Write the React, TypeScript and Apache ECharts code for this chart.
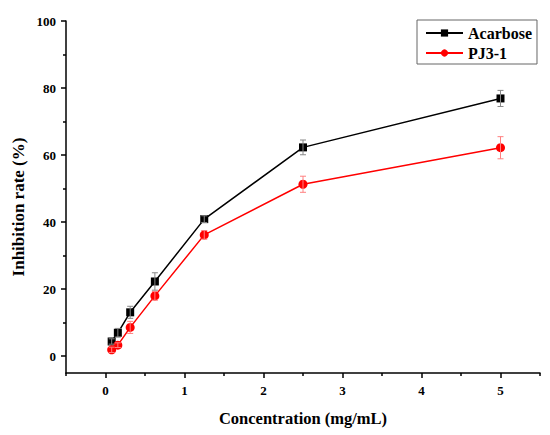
import React, { useEffect, useRef } from "react";
import * as echarts from "echarts";

const concentrations = [0.078125, 0.15625, 0.3125, 0.625, 1.25, 2.5, 5];
const acarbose = [4.4, 7.0, 13.1, 22.3, 40.9, 62.3, 76.9];
const acarboseErr = [0.8, 1.3, 1.8, 2.6, 1.0, 2.2, 2.4];
const pj31 = [1.9, 3.3, 8.6, 18.0, 36.2, 51.3, 62.2];
const pj31Err = [0.8, 0.7, 1.8, 1.3, 1.3, 2.4, 3.3];
const xLabels = [0, 1, 2, 3, 4, 5];
const xMinor = [-0.5, 0.5, 1.5, 2.5, 3.5, 4.5, 5.5];
const yLabels = [0, 20, 40, 60, 80, 100];
const yMinor = [10, 30, 50, 70, 90];

const FONT = "'Liberation Serif', 'Times New Roman', serif";

function errSeries(vals: number[], errs: number[], color: string) {
  return {
    type: "custom",
    coordinateSystem: "cartesian2d",
    xAxisIndex: 0,
    yAxisIndex: 0,
    z: 5,
    silent: true,
    data: concentrations.map((x, i) => [x, vals[i], errs[i]]),
    renderItem: (params: any, api: any) => {
      const x = api.value(0);
      const y = api.value(1);
      const e = api.value(2);
      const hi = api.coord([x, y + e]);
      const lo = api.coord([x, y - e]);
      const w = 3;
      const style = { stroke: color, lineWidth: 1 };
      return {
        type: "group",
        children: [
          { type: "line", shape: { x1: hi[0], y1: hi[1], x2: lo[0], y2: lo[1] }, style },
          { type: "line", shape: { x1: hi[0] - w, y1: hi[1], x2: hi[0] + w, y2: hi[1] }, style },
          { type: "line", shape: { x1: lo[0] - w, y1: lo[1], x2: lo[0] + w, y2: lo[1] }, style },
        ],
      };
    },
  };
}

export default function App() {
  const ref = useRef<HTMLDivElement>(null);
  useEffect(() => {
    if (!ref.current) return;
    const chart = echarts.init(ref.current, null, { renderer: "svg" });
    const axisLine = { show: true, onZero: false, lineStyle: { color: "#000", width: 1.5 } };
    const tickStyle = { color: "#000", width: 1.5 };
    const labelStyle = { fontFamily: FONT, fontWeight: "bold", fontSize: 13, color: "#000" };
    chart.setOption({
      animation: false,
      backgroundColor: "#fff",
      grid: { left: 66, right: 10, top: 21, bottom: 62, containLabel: false },
      legend: {
        data: ["Acarbose", "PJ3-1"],
        orient: "vertical",
        left: 417,
        top: 20,
        padding: [5, 5, 3, 8],
        itemGap: 4,
        itemWidth: 37,
        itemHeight: 9,
        borderColor: "#666",
        borderWidth: 1,
        textStyle: { fontFamily: FONT, fontWeight: "bold", fontSize: 16, color: "#000" },
      },
      graphic: [
        {
          type: "text",
          x: 18,
          y: 207,
          rotation: Math.PI / 2,
          style: {
            text: "Inhibition rate (%)",
            fontFamily: FONT,
            fontWeight: "bold",
            fontSize: 17,
            fill: "#000",
            textAlign: "center",
            textVerticalAlign: "middle",
          },
        },
      ],
      xAxis: [
        {
          type: "value",
          min: -0.5,
          max: 5.5,
          position: "bottom",
          name: "Concentration (mg/mL)",
          nameLocation: "middle",
          nameGap: 37,
          nameTextStyle: { fontFamily: FONT, fontWeight: "bold", fontSize: 16.5, color: "#000" },
          axisLine,
          axisTick: { customValues: xLabels, length: 5, lineStyle: tickStyle },
          axisLabel: { customValues: xLabels, margin: 11, ...labelStyle },
          splitLine: { show: false },
        },
        {
          type: "value",
          min: -0.5,
          max: 5.5,
          position: "bottom",
          axisLine: { show: false, onZero: false },
          axisTick: { customValues: xMinor, length: 3, lineStyle: tickStyle },
          axisLabel: { show: false },
          splitLine: { show: false },
        },
      ],
      yAxis: [
        {
          type: "value",
          min: -5,
          max: 100,
          position: "left",
          axisLine,
          axisTick: { show: true, customValues: yLabels, length: 5, lineStyle: tickStyle },
          axisLabel: { customValues: yLabels, margin: 10, ...labelStyle },
          splitLine: { show: false },
        },
        {
          type: "value",
          min: -5,
          max: 100,
          position: "left",
          axisLine: { show: false, onZero: false },
          axisTick: { show: true, customValues: yMinor, length: 3, lineStyle: tickStyle },
          axisLabel: { show: false },
          splitLine: { show: false },
        },
      ],
      series: [
        {
          name: "Acarbose",
          type: "line",
          data: concentrations.map((x, i) => [x, acarbose[i]]),
          symbol: "rect",
          symbolSize: 8,
          color: "#000",
          lineStyle: { color: "#000", width: 1.5 },
          itemStyle: { color: "#000" },
          z: 3,
        },
        {
          name: "PJ3-1",
          type: "line",
          data: concentrations.map((x, i) => [x, pj31[i]]),
          symbol: "circle",
          symbolSize: 9,
          color: "#ff0000",
          lineStyle: { color: "#ff0000", width: 1.5 },
          itemStyle: { color: "#ff0000" },
          z: 3,
        },
        errSeries(acarbose, acarboseErr, "#888888"),
        errSeries(pj31, pj31Err, "#ff8080"),
      ],
    });
    return () => chart.dispose();
  }, []);
  return (
    <div
      ref={ref}
      style={{ position: "fixed", left: 0, top: 0, width: 550, height: 435, background: "#fff" }}
    />
  );
}
